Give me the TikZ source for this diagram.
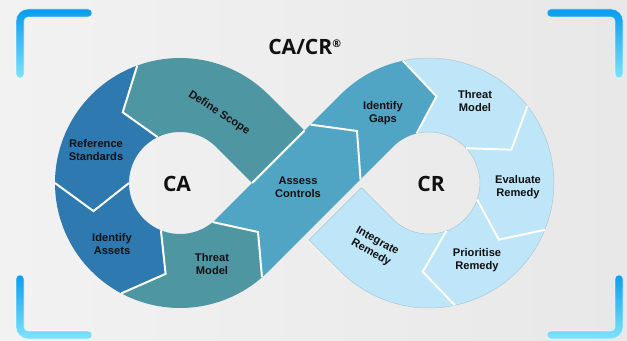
\documentclass[tikz,border=0pt]{standalone}
\usepackage{fontspec}
\setmainfont{Liberation Sans}
\newfontfamily\headfont{Open Sans}
\usetikzlibrary{calc}
\definecolor{bgL}{HTML}{F2F2F2}
\definecolor{bgR}{HTML}{E8E8E8}
\definecolor{segTeal}{HTML}{4F96A3}
\definecolor{segBlue}{HTML}{2D79B0}
\definecolor{segMid}{HTML}{50A4C4}
\definecolor{segLight}{HTML}{BEE6F8}
\definecolor{lightEdge}{HTML}{A9C7D3}
\definecolor{bDark}{HTML}{0A9CEF}
\definecolor{bLight}{HTML}{80E3FB}
\definecolor{ink}{HTML}{111111}
\begin{document}
\begin{tikzpicture}[x=0.03cm,y=-0.03cm,
  lbl/.style={font=\bfseries\fontsize{9.5}{11.2}\selectfont, align=center, text=ink, inner sep=0pt},
  bigtxt/.style={font=\headfont\bfseries\fontsize{18}{20}\selectfont, text=ink, inner sep=0pt},
  sepline/.style={draw=white, line width=1.7pt, line join=miter},
  brk/.style={top color=bDark, bottom color=bLight, draw=white, draw opacity=0.6, line width=0.5pt},
  lightseg/.style={fill=segLight, draw=lightEdge, line width=0.4pt}]
\useasboundingbox (0,0) rectangle (627,340);
\shade[left color=bgL, right color=bgR] (0,0) rectangle (627,340);

% corner brackets
\path[brk] (88,9) -- (28,9) .. controls (21.4,9) and (16,14.4) .. (16,21) -- (16,74) .. controls (16,79.3) and (24,79.3) .. (24,74) -- (24,21) .. controls (24,18.8) and (25.8,17) .. (28,17) -- (88,17) .. controls (93.3,17) and (93.3,9) .. (88,9) -- cycle;
\path[brk] (551,9) -- (611,9) .. controls (617.6,9) and (623,14.4) .. (623,21) -- (623,74) .. controls (623,79.3) and (615,79.3) .. (615,74) -- (615,21) .. controls (615,18.8) and (613.2,17) .. (611,17) -- (551,17) .. controls (545.7,17) and (545.7,9) .. (551,9) -- cycle;
\path[brk] (16,279) .. controls (16,273.7) and (24,273.7) .. (24,279) -- (24,327) .. controls (24,329.2) and (25.8,331) .. (28,331) -- (88,331) .. controls (93.3,331) and (93.3,339) .. (88,339) -- (28,339) .. controls (21.4,339) and (16,333.6) .. (16,327) -- cycle;
\path[brk] (623,279) .. controls (623,273.7) and (615,273.7) .. (615,279) -- (615,327) .. controls (615,329.2) and (613.2,331) .. (611,331) -- (551,331) .. controls (545.7,331) and (545.7,339) .. (551,339) -- (611,339) .. controls (617.6,339) and (623,333.6) .. (623,327) -- cycle;

\coordinate (C1) at (180,183);
\coordinate (C2) at (428.9,183);

% ---- left loop ----
% Define Scope
\fill[segTeal] (304.45,130.65) -- (268.39,94.61) -- plot[domain=315:250,samples=40] ({180+125*cos(\x)},{183+125*sin(\x)}) -- ($(C1)+(231:91)$) -- plot[domain=244:315,samples=30] ({180+51*cos(\x)},{183+51*sin(\x)}) -- (252.12,183) -- cycle;
% Reference Standards
\fill[segBlue] plot[domain=250:180,samples=40] ({180+125*cos(\x)},{183+125*sin(\x)}) -- ($(C1)+(162:91)$) -- plot[domain=180:244,samples=30] ({180+51*cos(\x)},{183+51*sin(\x)}) -- ($(C1)+(231:91)$) -- cycle;
% Identify Assets
\fill[segBlue] plot[domain=180:118,samples=40] ({180+125*cos(\x)},{183+125*sin(\x)}) -- ($(C1)+(99:92)$) -- plot[domain=112:180,samples=30] ({180+51*cos(\x)},{183+51*sin(\x)}) -- ($(C1)+(162:91)$) -- cycle;
% Threat Model (CA)
\fill[segTeal] plot[domain=118:49,samples=40] ({180+125*cos(\x)},{183+125*sin(\x)}) -- (258,232) -- plot[domain=50:112,samples=30] ({180+51*cos(\x)},{183+51*sin(\x)}) -- ($(C1)+(99:92)$) -- cycle;

% ---- right loop ----
% Threat Model (CR)
\path[lightseg] plot[domain=-102:-38,samples=40] ({428.9+125*cos(\x)},{183+125*sin(\x)}) -- ($(C2)+(-22:89)$) -- plot[domain=-43:-104,samples=30] ({428.9+51*cos(\x)},{183+51*sin(\x)}) -- ($(C2)+(-85:87)$) -- cycle;
% Evaluate Remedy
\path[lightseg] plot[domain=-38:22,samples=40] ({428.9+125*cos(\x)},{183+125*sin(\x)}) -- ($(C2)+(39:90)$) -- plot[domain=19:-43,samples=30] ({428.9+51*cos(\x)},{183+51*sin(\x)}) -- ($(C2)+(-22:89)$) -- cycle;
% Prioritise Remedy
\path[lightseg] plot[domain=22:78,samples=40] ({428.9+125*cos(\x)},{183+125*sin(\x)}) -- ($(C2)+(94:89)$) -- plot[domain=70:19,samples=30] ({428.9+51*cos(\x)},{183+51*sin(\x)}) -- ($(C2)+(39:90)$) -- cycle;
% Integrate Remedy
\path[lightseg] plot[domain=78:135,samples=40] ({428.9+125*cos(\x)},{183+125*sin(\x)}) -- (309.05,239.95) -- (361.4,187.6) -- plot[domain=135:70,samples=30] ({428.9+51*cos(\x)},{183+51*sin(\x)}) -- ($(C2)+(94:89)$) -- cycle;

% ---- crossing band ----
% Assess Controls
\fill[segMid] plot[domain=50:45,samples=5] ({180+51*cos(\x)},{183+51*sin(\x)}) -- (310.5,124.6) -- (357,131) -- (360.5,179.3) -- (268.39,271.39) -- plot[domain=45:49,samples=5] ({180+125*cos(\x)},{183+125*sin(\x)}) -- (258,232) -- cycle;
% Identify Gaps
\fill[segMid] (310.5,124.6) -- (340.51,94.61) -- plot[domain=-135:-102,samples=30] ({428.9+125*cos(\x)},{183+125*sin(\x)}) -- ($(C2)+(-85:87)$) -- plot[domain=-104:-135,samples=20] ({428.9+51*cos(\x)},{183+51*sin(\x)}) -- (360.5,179.3) -- (357,131) -- cycle;

% ---- separators ----
\draw[sepline] ($(C1)+(250:125)$) -- ($(C1)+(231:91)$) -- ($(C1)+(244:51)$);
\draw[sepline] ($(C1)+(180:125)$) -- ($(C1)+(162:91)$) -- ($(C1)+(180:51)$);
\draw[sepline] ($(C1)+(118:125)$) -- ($(C1)+(99:92)$) -- ($(C1)+(112:51)$);
\draw[sepline] ($(C1)+(49:125)$) -- (258,232) -- ($(C1)+(50:51)$);
\draw[sepline] (310.5,124.6) -- (357,131) -- (360.5,179.3);
\draw[sepline] (252.12,183) -- (304.45,130.65);
\draw[sepline] ($(C2)+(-102:125)$) -- ($(C2)+(-85:87)$) -- ($(C2)+(-104:51)$);
\draw[sepline] ($(C2)+(-38:125)$) -- ($(C2)+(-22:89)$) -- ($(C2)+(-43:51)$);
\draw[sepline] ($(C2)+(22:125)$) -- ($(C2)+(39:90)$) -- ($(C2)+(19:51)$);
\draw[sepline] ($(C2)+(78:125)$) -- ($(C2)+(94:89)$) -- ($(C2)+(70:51)$);

% ---- labels ----
\node[bigtxt] (title) at (305,47) {CA/CR\textsuperscript{\fontsize{9}{9}\selectfont ®}};
\node[bigtxt] (ca) at (177,184) {CA};
\node[bigtxt] (cr) at (431,184) {CR};
\node[lbl, rotate=-33] (ds) at (219,113) {Define Scope};
\node[lbl] (rs) at (96,150) {Reference\\Standards};
\node[lbl] (ia) at (112,244) {Identify\\Assets};
\node[lbl] (tm1) at (212,264) {Threat\\Model};
\node[lbl] (ac) at (298,187) {Assess\\Controls};
\node[lbl] (ig) at (383,113) {Identify\\Gaps};
\node[lbl] (tm2) at (475,101) {Threat\\Model};
\node[lbl] (er) at (518,187) {Evaluate\\Remedy};
\node[lbl] (pr) at (477,260) {Prioritise\\Remedy};
\node[lbl, rotate=-29] (ir) at (374,247) {Integrate\\Remedy};
\end{tikzpicture}
\end{document}
